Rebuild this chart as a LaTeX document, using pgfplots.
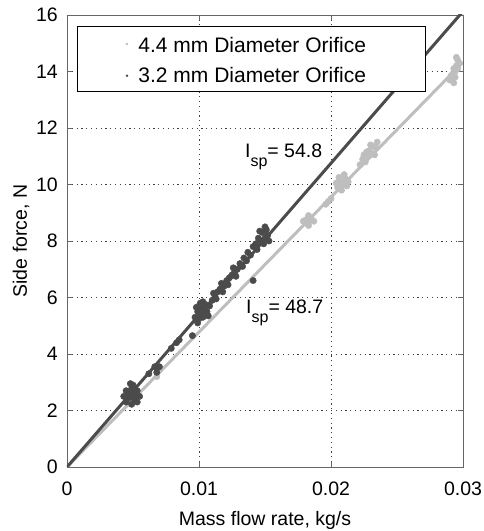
\documentclass[border=0pt]{standalone}
\usepackage{pgfplots}
\pgfplotsset{compat=1.18}
\usepackage{fontspec}
\setmainfont{Liberation Sans}
\definecolor{darkg}{RGB}{75,75,75}
\definecolor{lightg}{RGB}{190,190,190}
\begin{document}
\begin{tikzpicture}
\begin{axis}[
  scale only axis, width=396pt, height=452pt,
  xmin=0, xmax=0.03, ymin=0, ymax=16,
  xtick={0,0.01,0.02,0.03}, xticklabels={0,0.01,0.02,0.03},
  ytick={0,2,4,6,8,10,12,14,16},
  scaled x ticks=false,
  /pgf/number format/assume math mode=true,
  tick label style={font=\fontsize{19.5}{23}\selectfont},
  label style={font=\fontsize{19.5}{23}\selectfont},
  xticklabel style={anchor=base, yshift=-28pt},
  yticklabel style={anchor=east, inner sep=0pt, xshift=-9pt},
  xlabel={Mass flow rate, kg/s},
  ylabel={Side force, N},
  xlabel style={at={(axis description cs:0.5,0)}, anchor=base, yshift=-58pt},
  ylabel style={at={(axis description cs:0,0.5)}, anchor=base, rotate=0, yshift=40pt},
  axis line style={black!60, line width=0.9pt},
  tick style={black!60, line width=0.9pt},
  tick align=inside, major tick length=5pt,
  grid=major,
  major grid style={black!75, line width=0.9pt, dash pattern=on 1.2pt off 3.6pt},
  clip=true,
  legend cell align=left,
  legend style={at={(axis description cs:0,1)}, anchor=north west, xshift=10pt, yshift=-11pt,
    draw=black, line width=0.9pt, fill=white, font=\fontsize{21}{25}\selectfont,
    inner xsep=0pt, inner ysep=5pt, row sep=9pt},
  legend image code/.code={\node[inner sep=0pt, minimum width=59pt, minimum height=2pt, anchor=west] at (0pt,0pt) {};
    \fill[#1, draw=none] (50pt,0pt) circle (1.4pt);},
]
\coordinate (bl) at (rel axis cs:0,0);
\coordinate (tr) at (rel axis cs:1,1);
% light gray data: 4.4 mm
\addplot[only marks, mark=*, mark size=3.2pt, color=lightg, forget plot] coordinates {
(0.0050,2.35) (0.0068,3.2)
(0.0181,8.75) (0.0183,8.7) (0.0185,8.8) (0.0183,8.9) (0.0183,8.55) (0.0179,8.7) (0.0187,8.7)
(0.0198,9.4) (0.0200,9.5) (0.0196,9.3)
(0.0205,9.9) (0.0207,10.1) (0.0209,10.0) (0.0211,10.2) (0.0208,9.8) (0.0213,10.1) (0.0206,10.25) (0.0210,10.35) (0.0204,10.05) (0.0212,9.95)
(0.0222,10.7) (0.0224,10.9) (0.0226,10.8) (0.0228,11.0) (0.0229,11.2) (0.0231,11.1) (0.0232,11.35) (0.0234,11.3) (0.0235,11.5) (0.0227,11.15) (0.0233,11.05) (0.0230,11.4) (0.0225,11.05)
(0.0290,13.7) (0.0292,13.9) (0.0293,14.1) (0.0294,13.8) (0.0295,14.2) (0.0296,14.4) (0.0294,14.0) (0.0297,14.3) (0.0293,13.6) (0.0295,14.5) (0.0291,13.85) (0.0296,14.1)
};
\addplot[color=lightg, line width=3pt, forget plot] coordinates {(0,0) (0.03,14.33)};
% dark data: 3.2 mm
\addplot[color=darkg, line width=3pt, forget plot] coordinates {(0,0) (0.03,16.13)};
\addplot[only marks, mark=*, mark size=3.2pt, color=darkg, forget plot] coordinates {
(0.0049,2.5) (0.0047,2.45) (0.0051,2.55) (0.0047,2.6) (0.0051,2.4)
(0.0055,2.5) (0.00532,2.70) (0.0049,2.78) (0.00448,2.70) (0.0043,2.5) (0.00448,2.30) (0.0049,2.22) (0.00532,2.30)
(0.0048,2.95) (0.0050,2.9)
(0.0062,3.3) (0.0068,3.5) (0.0068,3.35) (0.00665,3.55) (0.0070,3.55)
(0.0079,4.2) (0.0083,4.4) (0.0085,4.5) (0.0095,4.65)
(0.0097,5.3) (0.0099,5.5) (0.0100,5.7) (0.0101,5.4) (0.0102,5.6) (0.0103,5.3) (0.0104,5.5) (0.0105,5.75) (0.0106,5.5) (0.0099,5.1) (0.0101,5.8) (0.0108,5.7)
(0.0098,5.65) (0.0103,5.85) (0.0107,5.35) (0.0100,5.25)
(0.0110,5.9) (0.0112,6.0) (0.0114,6.2) (0.0116,6.3) (0.0117,6.5) (0.0119,6.4) (0.0121,6.6) (0.0123,6.7) (0.0125,6.8) (0.0127,6.9) (0.0129,7.0)
(0.0111,6.15) (0.0113,5.95) (0.0118,6.2) (0.0122,6.45) (0.0126,7.05) (0.0128,6.75)
(0.0131,7.2) (0.0133,7.1) (0.0134,7.4) (0.0136,7.3) (0.0137,7.6) (0.0139,7.5) (0.0141,7.8) (0.0143,7.9) (0.0144,7.7) (0.0145,8.1) (0.0147,8.0)
(0.0148,8.3) (0.0150,8.1) (0.0151,8.4) (0.0152,8.2) (0.0149,7.9) (0.0146,8.35) (0.0150,8.5) (0.0153,8.0)
(0.0141,6.6)
};
\addlegendimage{only marks, mark=*, color=lightg}
\addlegendentry{\rule{0pt}{19.5pt}4.4 mm Diameter Orifice\hspace*{57pt}\mbox{}}
\addlegendimage{only marks, mark=*, color=darkg}
\addlegendentry{3.2 mm Diameter Orifice\hspace*{57pt}\mbox{}}
\node[anchor=base west, inner sep=0pt, font=\fontsize{19.5}{23}\selectfont] at (axis cs:0.01348,10.94) {I\raisebox{-9pt}{\fontsize{16}{16}\selectfont sp}= 54.8};
\node[anchor=base west, inner sep=0pt, font=\fontsize{19.5}{23}\selectfont] at (axis cs:0.01356,5.45) {I\raisebox{-9pt}{\fontsize{16}{16}\selectfont sp}= 48.7};
\end{axis}
\pgfresetboundingbox
\path[use as bounding box] ([shift={(-67pt,-64pt)}]bl) rectangle ([shift={(21pt,15pt)}]tr);
\end{tikzpicture}
\end{document}
